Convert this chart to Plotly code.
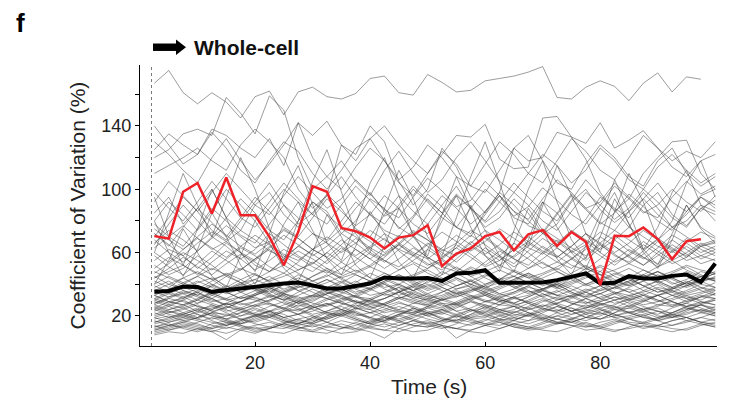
import plotly.graph_objects as go

# ---------------- data ----------------
TIME = [2.5, 5.0, 7.5, 10.0, 12.5, 15.0, 17.5, 20.0, 22.5, 25.0,
        27.5, 30.0, 32.5, 35.0, 37.5, 40.0, 42.5, 45.0, 47.5, 50.0,
        52.5, 55.0, 57.5, 60.0, 62.5, 65.0, 67.5, 70.0, 72.5, 75.0,
        77.5, 80.0, 82.5, 85.0, 87.5, 90.0, 92.5, 95.0, 97.5, 100.0]

RED = [70.4, 68.9, 98.4, 104, 84.7, 107.4, 83.6, 83.6, 69.9, 52,
       73, 102, 98.4, 75.6, 73.5, 69.5, 62.6, 69.5, 71, 77.3,
       51.4, 59.4, 62.6, 70.4, 73, 61.5, 71.6, 74.2, 64.2, 73,
       66.8, 39.4, 70.6, 70.4, 75.9, 68.5, 55.8, 67.2, 68.5]

BLACK = [35.2, 35.8, 38.5, 38.3, 35.2, 36.3, 37.5, 38.8, 39.4, 40.5,
         41.1, 39.4, 37.3, 37.3, 38.8, 40.5, 44.3, 43.6, 43.6, 44,
         42.1, 46.8, 47.2, 48.9, 40.9, 40.9, 41.3, 41.1, 42.6, 44.7,
         46.8, 40.5, 40.9, 45.1, 43.6, 43.6, 45.3, 46.2, 41.5, 53.1]

TOP = [167, 175, 161, 154, 161, 155, 145, 158.5, 162, 147,
       161.5, 164.5, 158.5, 157, 160.5, 170, 171.5, 161, 159.5, 172.5,
       167.5, 161.5, 162.5, 168.5, 170, 171.5, 174, 177.5, 158, 157,
       164.5, 168.5, 165, 156, 167, 173.5, 161.5, 171, 169.5]

L1 = [18,20,17,19,22,21,18,16,19,23,24,20,18,21,25,22,19,17,20,22,24,21,18,19,23,26,22,20,18,21,24,22,19,20,23,25,21,19,22,24]
L2 = [12,14,13,11,15,17,14,12,13,16,18,15,13,12,14,17,19,16,14,13,15,18,16,14,12,15,17,19,16,14,13,16,18,15,13,14,17,19,16,15]
L3 = [25,22,24,27,23,20,22,26,28,24,21,23,27,29,25,22,24,28,26,23,21,25,29,27,24,22,26,30,27,23,25,28,26,22,24,27,29,25,23,26]
L4 = [15,17,20,18,16,14,17,21,19,16,15,18,22,20,17,15,19,23,21,18,16,20,24,21,18,17,21,25,22,19,17,20,24,22,19,18,22,26,23,20]
L5 = [30,27,25,28,31,26,24,27,30,33,28,25,27,31,29,26,28,32,30,27,25,29,33,30,27,26,30,34,31,28,26,29,32,30,27,29,33,31,28,30]
L6 = [10,12,15,13,11,9,12,14,16,13,11,10,13,15,12,10,6,12,15,17,14,12,11,14,16,13,11,12,15,17,14,12,10,13,16,14,12,11,14,16]
L7 = [22,19,21,24,26,22,18,20,23,25,21,17,19,22,27,24,20,18,21,25,28,23,19,20,24,26,22,18,20,23,27,24,20,22,25,23,19,21,24,22]
L8 = [14,11,13,16,19,16,13,10,12,15,18,20,16,13,11,14,17,20,17,14,12,15,19,22,18,15,13,16,20,18,15,13,16,19,21,17,14,16,19,17]
L9 = [28,31,29,26,24,28,32,30,27,25,29,33,31,28,26,30,34,31,28,27,31,35,32,29,27,31,29,26,28,32,35,31,28,30,33,30,27,29,32,34]
L10 = [19,16,18,21,17,14,16,20,23,19,16,15,19,22,18,15,17,21,24,20,17,16,20,23,20,17,15,18,22,25,21,18,20,23,20,17,19,22,24,21]
L11 = [8,10,9,12,10,5,11,13,10,9,12,14,11,9,10,13,15,12,10,11,14,12,10,9,12,15,13,11,10,13,16,13,11,12,14,12,10,12,15,13]
L12 = [24,27,30,26,23,25,29,32,28,25,23,27,31,28,25,24,28,32,29,26,24,28,31,33,29,26,25,29,32,28,25,27,30,33,30,27,26,30,33,31]
L13 = [16,19,22,25,21,18,20,24,21,17,15,19,23,26,22,19,17,21,25,22,18,17,21,24,21,18,20,23,26,23,19,18,22,25,22,19,21,24,27,24]
L14 = [33,29,27,30,34,31,28,26,30,34,32,28,26,30,33,29,27,31,35,32,28,27,31,34,30,28,32,36,33,29,28,32,35,31,29,33,36,32,30,34]
L15 = [11,13,16,14,12,15,18,15,13,12,15,19,16,13,12,16,20,17,14,13,17,20,18,15,14,17,21,18,15,16,19,22,19,16,15,18,21,19,16,18]
L16 = [20,23,21,18,22,26,23,20,19,23,27,24,21,20,24,28,25,22,21,25,22,19,23,27,24,21,20,24,28,25,22,21,25,29,26,23,22,26,29,27]
L17 = [26,23,20,22,25,28,24,21,23,27,30,26,22,24,28,31,27,24,22,26,30,27,23,25,29,32,28,25,23,27,31,28,25,26,30,33,29,26,28,31]
L18 = [13,15,12,10,13,16,14,11,12,15,13,11,14,17,15,12,11,14,17,15,13,12,15,18,16,13,12,15,18,16,13,14,17,15,12,14,17,19,16,14]
L19 = [35,32,34,37,33,30,32,36,38,34,31,33,37,35,32,31,35,38,34,31,33,37,39,35,32,34,38,36,33,32,36,39,35,33,35,38,36,33,35,38]
L20 = [17,14,16,19,22,18,15,17,20,17,14,16,20,23,19,16,18,21,18,15,17,21,24,20,17,19,22,19,16,18,22,25,21,18,20,23,20,17,19,22]
L21 = [21,24,27,23,20,18,22,25,22,19,21,25,28,24,21,19,23,26,23,20,22,26,29,25,22,20,24,27,24,21,23,27,30,26,23,21,25,28,25,22]
L22 = [9,11,14,12,10,13,11,9,12,15,13,10,9,12,16,13,11,10,13,16,14,6,11,14,17,14,12,13,16,14,11,12,15,18,15,13,14,17,15,13]
L23 = [23,26,22,19,24,28,25,21,20,24,29,26,22,21,25,30,27,23,22,26,31,28,24,22,27,32,28,24,23,27,31,27,24,25,29,33,29,26,27,30]
L24 = [16,18,21,24,20,17,15,19,23,21,17,16,20,24,22,18,16,20,25,22,18,17,21,26,23,19,17,22,26,23,19,18,22,27,24,20,19,23,27,25]
L25 = [31,28,32,35,30,27,29,33,36,31,28,30,34,37,32,29,31,35,38,33,30,32,36,39,34,31,33,37,40,35,32,34,38,41,36,33,35,39,42,38]
L26 = [13,16,19,17,14,12,15,18,21,18,15,13,16,20,23,19,16,14,17,21,24,20,17,15,18,22,25,21,18,16,19,23,26,22,19,17,20,24,27,23]
L27 = [27,24,26,30,27,23,25,29,32,28,24,26,30,33,29,25,27,31,34,30,26,28,32,35,31,27,29,33,36,32,28,30,34,37,33,29,31,35,38,34]
L28 = [19,22,25,21,18,20,24,27,23,19,21,25,28,24,20,22,26,29,25,21,23,27,30,26,22,24,28,31,27,23,25,29,32,28,24,26,30,33,29,27]
L29 = [37,34,31,35,39,35,31,33,37,41,36,32,34,38,42,37,33,35,39,43,38,34,36,40,44,39,35,37,41,45,40,36,38,42,46,41,37,39,43,44]
L30 = [11,14,17,15,12,14,17,20,17,14,12,15,18,21,18,15,13,16,19,22,19,16,14,17,20,23,20,17,15,18,21,24,21,18,16,19,22,25,22,20]
L31 = [24,21,19,23,27,24,20,22,26,29,25,21,23,27,30,26,22,24,28,31,27,23,25,29,32,28,24,26,30,33,29,25,27,31,34,30,26,28,32,31]
L32 = [33,37,34,30,35,39,35,31,29,34,38,40,35,31,33,37,41,36,32,30,35,39,42,37,33,35,39,43,38,34,32,37,41,44,39,35,37,41,45,42]

M1 = [38,42,36,33,39,45,41,37,34,40,46,42,38,35,41,47,43,39,36,42,48,44,40,37,43,49,45,41,38,44,50,46,42,39,45,48,44,40,43,47]
M2 = [30,34,38,35,31,36,40,37,33,30,35,39,43,38,34,37,41,45,40,36,39,43,38,35,38,42,46,41,37,40,44,48,43,39,42,46,41,38,41,45]
M3 = [45,40,37,41,44,39,35,38,43,47,42,38,41,45,49,44,40,36,40,44,41,37,40,45,49,45,41,44,48,43,39,42,46,50,45,41,44,48,44,42]
M4 = [27,31,35,32,28,25,29,34,38,33,29,32,36,33,29,27,31,35,39,34,30,33,37,34,30,28,32,36,40,35,31,34,38,35,31,33,37,41,36,33]
M5 = [42,38,44,48,43,37,40,46,42,36,39,45,50,44,39,42,47,43,38,41,46,51,45,40,43,48,44,39,42,47,52,46,41,44,49,45,40,43,48,46]
M6 = [33,29,31,36,40,35,31,34,38,34,30,33,38,42,37,33,35,40,36,32,35,39,43,38,34,37,41,37,33,36,40,44,39,35,38,42,38,34,37,41]
M7 = [48,44,40,45,50,46,41,43,48,52,47,42,45,50,46,42,44,49,53,47,43,46,51,47,43,45,50,54,48,44,47,52,48,44,46,51,55,49,45,48]
M8 = [36,40,44,39,35,38,43,47,41,37,40,45,49,43,39,37,42,46,42,38,41,46,50,44,40,43,47,43,39,42,47,51,45,41,44,48,44,40,43,47]
M9 = [29,26,30,34,31,27,29,33,37,32,28,31,35,32,28,30,34,38,33,29,32,36,33,29,31,35,39,34,30,33,37,34,30,32,36,40,35,31,34,37]
M10 = [40,45,41,37,42,47,43,38,35,40,44,40,36,41,46,42,38,40,45,49,44,39,42,46,42,38,41,46,50,45,40,43,47,43,39,42,47,51,46,42]
M11 = [34,37,41,45,40,36,39,43,39,35,38,42,46,41,37,40,44,40,36,39,43,47,42,38,41,45,41,37,40,44,48,43,39,42,46,42,38,41,45,43]
M12 = [25,29,27,31,35,30,27,29,33,30,26,29,34,37,32,28,31,35,31,28,30,34,38,33,29,32,36,32,28,31,35,39,34,30,33,37,33,29,32,36]
M13 = [44,48,52,47,43,46,50,46,42,45,49,54,48,44,47,51,47,43,46,50,55,49,45,48,52,48,44,47,51,56,50,46,49,53,49,45,48,52,49,47]
M14 = [31,35,32,28,33,37,41,36,32,35,39,35,31,34,38,42,37,33,36,40,36,32,35,39,43,38,34,37,41,37,33,36,40,44,39,35,38,42,38,36]
M15 = [39,35,38,42,38,34,37,41,45,40,36,39,43,39,35,38,42,46,41,37,40,44,40,36,39,43,47,42,38,41,45,41,37,40,44,48,43,39,42,44]
M16 = [28,32,36,33,29,31,35,39,34,30,33,37,33,29,32,36,40,35,31,34,38,34,30,33,37,41,36,32,35,39,35,31,34,38,42,37,33,36,40,38]

N1 = [55,62,58,50,57,66,60,52,48,56,64,59,53,61,69,62,55,51,58,66,60,54,62,70,63,56,52,60,68,61,55,63,71,64,57,53,61,69,62,58]
N2 = [68,60,54,61,70,64,56,62,72,65,58,53,60,68,62,56,63,71,64,57,52,59,67,61,55,62,70,63,57,64,72,65,58,54,61,69,63,57,64,66]
N3 = [47,53,60,55,49,56,63,58,51,47,54,62,57,50,55,63,69,61,54,50,57,65,59,52,58,66,60,53,49,56,64,58,52,59,67,61,55,60,66,62]
N4 = [75,68,62,70,78,71,64,59,66,74,69,62,67,75,70,63,58,65,73,68,61,66,74,69,62,57,64,72,67,60,65,73,68,61,56,63,71,66,60,64]
N5 = [58,51,46,53,61,55,49,56,64,58,52,48,55,63,57,51,57,65,59,53,49,56,64,58,52,58,66,60,54,50,57,65,59,53,59,67,61,55,58,62]
N6 = [63,70,77,69,62,67,74,68,61,57,64,72,66,60,66,74,68,62,58,65,73,67,61,67,75,69,63,59,66,74,68,62,68,76,70,64,60,67,73,69]
N7 = [50,57,52,46,54,61,56,49,55,62,57,51,47,54,62,56,50,56,63,57,51,48,55,63,57,51,57,64,58,52,49,56,64,58,52,58,65,59,53,56]
N8 = [72,65,58,66,73,67,60,55,63,71,65,58,64,72,66,59,54,62,70,64,57,63,71,65,58,53,61,69,63,56,62,70,64,57,52,60,68,62,56,60]
N9 = [44,50,57,51,46,53,59,54,48,55,61,56,50,46,53,60,55,49,55,62,56,50,47,54,61,56,50,56,63,57,51,48,55,62,57,51,57,64,58,55]
N10 = [60,54,62,69,63,57,64,71,65,59,55,62,70,64,58,64,72,66,60,56,63,71,65,59,65,73,67,61,57,64,72,66,60,66,74,68,62,58,65,68]
N11 = [52,46,50,58,52,45,49,56,62,55,49,53,60,54,48,52,59,65,58,52,56,63,57,51,55,62,56,50,54,61,67,60,54,58,65,59,53,57,64,60]
N12 = [66,74,68,61,69,77,70,63,67,75,69,62,57,65,73,67,60,66,74,68,62,58,66,74,68,61,67,75,69,63,58,66,74,68,62,68,76,70,64,67]

H1 = [85,95,78,88,100,82,74,90,98,84,76,92,86,72,80,94,88,75,83,97,89,76,70,86,96,82,78,92,85,73,81,95,87,76,90,98,84,77,88,93]
H2 = [70,82,95,86,74,68,80,92,104,90,78,85,97,88,75,70,84,96,86,78,90,102,88,76,82,94,85,72,78,92,100,87,79,86,98,88,76,84,95,90]
H3 = [98,88,80,92,105,94,82,76,88,100,92,84,96,108,95,84,78,90,102,93,85,97,88,80,92,104,95,86,80,93,106,96,88,82,94,104,92,86,96,100]
H4 = [78,70,64,75,88,80,71,66,78,90,82,72,68,80,92,84,74,70,82,94,85,76,72,84,96,86,77,73,85,97,88,79,74,86,94,84,76,80,90,86]
H5 = [92,105,96,86,98,110,100,90,84,96,108,98,88,94,106,97,87,82,95,107,99,89,93,105,96,86,81,94,106,98,88,92,104,95,86,82,95,105,97,102]
H6 = [65,78,90,80,70,82,94,85,74,68,80,92,84,76,88,98,86,76,70,84,96,88,78,86,98,90,80,72,84,96,87,78,85,97,89,80,74,86,95,88]
H8 = [80,92,84,74,86,100,90,80,92,104,94,84,78,90,102,93,83,88,100,92,82,76,88,100,92,83,89,101,93,84,78,90,102,94,85,90,100,92,86,96]
H9 = [72,64,76,88,79,70,82,95,86,76,70,82,94,86,77,84,96,88,78,72,84,96,88,79,86,98,90,80,74,86,98,90,81,88,100,92,82,76,88,84]

G1 = [120,125,135,138,134,158,148,135,159,150,120,100,108,118,105,96,112,124,110,98,106,120,130,118,105,98,110,122,115,104,112,126,118,106,100,114,122,112,104,110]
G2 = [125,135,128,122,138,134,126,120,132,115,142,134,143,128,118,132,140,128,118,110,122,134,133,141,119,113,114,145,146,133,129,142,126,131,137,126,118,124,120,130]
G3 = [110,115,120,126,118,112,128,138,130,120,100,88,96,128,122,140,130,105,90,100,126,114,95,85,98,126,118,120,136,133,119,98,86,94,110,120,130,131,110,100]
G4 = [130,122,112,104,120,132,118,106,116,128,142,120,108,100,114,126,118,104,96,110,124,116,102,98,112,126,134,118,104,100,116,128,120,108,102,118,126,110,102,108]
G6 = [140,128,116,122,136,126,112,104,118,130,124,110,100,112,126,132,118,106,114,128,120,108,102,116,130,122,110,104,118,132,124,112,106,120,134,126,114,108,118,122]

X1 = [60,85,110,90,70,95,120,100,75,55,80,105,125,98,72,60,88,112,94,70,58,82,108,130,104,78,64,90,115,96,72,60,86,110,92,68,80,104,118,95]
X2 = [95,70,52,75,100,82,60,48,72,98,115,90,66,55,78,104,120,96,70,58,84,108,88,64,50,74,100,118,92,68,56,80,106,86,62,76,98,112,90,80]
X3 = [40,55,75,60,45,38,58,80,66,50,42,60,84,70,52,44,64,88,72,56,46,66,90,74,58,48,68,92,76,60,50,70,94,78,62,52,72,90,75,66]
X4 = [80,60,45,62,85,70,52,40,58,78,92,74,56,46,64,86,72,54,44,62,80,96,76,58,48,66,88,74,56,46,64,84,98,78,60,50,68,90,76,70]

GRAY_LINES = [L1, L2, L3, L4, L5, L6, L7, L8, L9, L10, L11, L12, L13, L14, L15, L16,
              L17, L18, L19, L20, L21, L22, L23, L24, L25, L26, L27, L28, L29, L30,
              L31, L32,
              M1, M2, M3, M4, M5, M6, M7, M8, M9, M10, M11, M12, M13, M14, M15, M16,
              N1, N2, N3, N4, N5, N6, N7, N8, N9, N10, N11, N12,
              H1, H2, H3, H4, H5, H6, H8, H9,
              G1, G2, G3, G4, G6, X1, X2, X3, X4, TOP]

X_TICKS = [20, 40, 60, 80]
Y_TICKS = [20, 40, 60, 80, 100, 120, 140, 160]
Y_TICK_TEXT = ["20", "", "60", "", "100", "", "140", ""]
ONSET_TIME = 2.0

# ---------------- figure ----------------
FONT = "Liberation Sans, Arial, Helvetica, sans-serif"
fig = go.Figure()

for ys in GRAY_LINES:
    fig.add_trace(go.Scatter(x=TIME[:len(ys)], y=ys, mode="lines",
                             line=dict(color="rgba(60,60,60,0.5)", width=1),
                             hoverinfo="skip", showlegend=False))

fig.add_trace(go.Scatter(x=TIME[:len(BLACK)], y=BLACK, mode="lines",
                         line=dict(color="black", width=4), showlegend=False))
fig.add_trace(go.Scatter(x=TIME[:len(RED)], y=RED, mode="lines",
                         line=dict(color="#ee2229", width=2.5), showlegend=False))

fig.add_shape(type="line", xref="x", yref="paper", x0=ONSET_TIME, x1=ONSET_TIME,
              y0=0, y1=1, line=dict(color="rgb(120,120,120)", width=1, dash="3px,3px"))

# arrow (shaft + head) in paper coordinates
fig.add_shape(type="rect", xref="paper", yref="paper",
              x0=0.0225, x1=0.0650, y0=1.0500, y1=1.0765,
              line=dict(width=0), fillcolor="black")
fig.add_shape(type="path", xref="paper", yref="paper",
              path="M 0.0624 1.0907 L 0.0797 1.0633 L 0.0624 1.0356 Z",
              line=dict(width=0), fillcolor="black")

fig.add_annotation(text="<b>Whole-cell</b>", xref="paper", yref="paper", x=0, y=1,
                   xanchor="left", yanchor="middle", xshift=52, yshift=18,
                   showarrow=False, font=dict(family=FONT, size=21, color="#111"))
fig.add_annotation(text="<b>f</b>", xref="paper", yref="paper", x=0, y=1,
                   xanchor="center", yanchor="middle", xshift=-120, yshift=42,
                   showarrow=False, font=dict(family=FONT, size=26, color="black"))
fig.add_annotation(text="Coefficient of Variation (%)", xref="paper", yref="paper",
                   x=0, y=0.5, xanchor="center", yanchor="middle", xshift=-63,
                   textangle=-90, showarrow=False,
                   font=dict(family=FONT, size=21, color="#222"))
fig.add_annotation(text="Time (s)", xref="paper", yref="paper",
                   x=0.5, y=0, xanchor="center", yanchor="middle", yshift=-40,
                   showarrow=False, font=dict(family=FONT, size=21, color="#222"))

fig.update_layout(
    width=730, height=408,
    margin=dict(l=140, r=13, t=65, b=62),
    paper_bgcolor="white", plot_bgcolor="white",
    font=dict(family=FONT, size=18, color="#222"),
    hovermode=False,
    xaxis=dict(range=[0, 100.3], showline=True, linecolor="black", linewidth=1,
               ticks="inside", ticklen=4, tickcolor="black", tickvals=X_TICKS,
               showgrid=False, zeroline=False, tickfont=dict(size=18)),
    yaxis=dict(range=[1, 178.5], showline=True, linecolor="black", linewidth=1,
               ticks="outside", ticklen=4, tickcolor="black", tickvals=Y_TICKS,
               ticktext=Y_TICK_TEXT, showgrid=False, zeroline=False,
               tickfont=dict(size=18)),
)

fig.write_html("out.html")
